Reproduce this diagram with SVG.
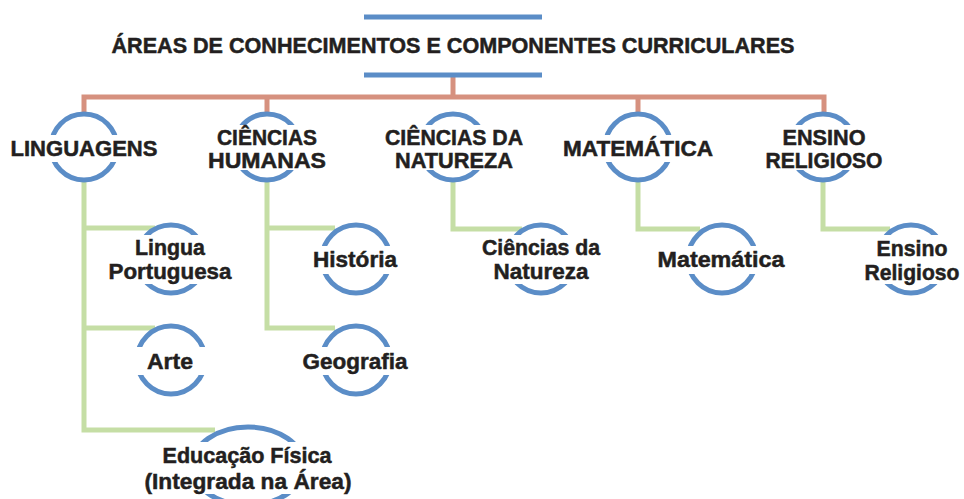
<svg xmlns="http://www.w3.org/2000/svg" width="964" height="499" viewBox="0 0 964 499">
<style>
.red{stroke:#d6917f;stroke-width:5;fill:none}
.grn{stroke:#c5dea5;stroke-width:5;fill:none}
.blu{stroke:#5b8dc7;stroke-width:5;fill:none}
.bg{fill:#ffffff}
text{font-family:"Liberation Sans",Arial,sans-serif;font-weight:bold;font-size:22px;fill:#231f20;stroke:#231f20;stroke-width:0.5;text-anchor:middle}
</style>
<rect width="964" height="499" fill="#ffffff"/>
<g id="connectors">
<line class="red" x1="453" y1="75" x2="453" y2="97"/>
<polyline class="red" points="84,113 84,97 824,97 824,113"/>
<line class="red" x1="267" y1="97" x2="267" y2="113"/>
<line class="red" x1="638" y1="97" x2="638" y2="113"/>
<polyline class="grn" points="84,181 84,430 215,430"/>
<line class="grn" x1="84" y1="228" x2="155" y2="228"/>
<line class="grn" x1="84" y1="328" x2="155" y2="328"/>
<polyline class="grn" points="267,181 267,328 335,328"/>
<line class="grn" x1="267" y1="228" x2="335" y2="228"/>
<polyline class="grn" points="453,181 453,229 522,229"/>
<polyline class="grn" points="638,181 638,229 700,229"/>
<polyline class="grn" points="823,181 823,229 890,229"/>
</g>
<g id="title">
<line class="blu" x1="364" y1="17" x2="542" y2="17"/>
<line class="blu" x1="364" y1="75" x2="542" y2="75"/>
<text x="453" y="53" textLength="683" lengthAdjust="spacingAndGlyphs">ÁREAS DE CONHECIMENTOS E COMPONENTES CURRICULARES</text>
</g>
<g id="linguagens">
<circle class="blu" cx="84" cy="147" r="33"/>
<rect class="bg" x="8" y="135" width="152" height="27"/>
<text x="84" y="156" textLength="147" lengthAdjust="spacingAndGlyphs">LINGUAGENS</text>
</g>
<g id="ciencias-humanas">
<circle class="blu" cx="267" cy="147" r="33"/>
<rect class="bg" x="205" y="125" width="124" height="45"/>
<text x="267" y="145" textLength="100" lengthAdjust="spacingAndGlyphs">CIÊNCIAS</text>
<text x="267" y="168" textLength="118" lengthAdjust="spacingAndGlyphs">HUMANAS</text>
</g>
<g id="ciencias-natureza">
<circle class="blu" cx="453" cy="147" r="33"/>
<rect class="bg" x="382" y="125" width="144" height="45"/>
<text x="454" y="145" textLength="138" lengthAdjust="spacingAndGlyphs">CIÊNCIAS DA</text>
<text x="454" y="168" textLength="118" lengthAdjust="spacingAndGlyphs">NATUREZA</text>
</g>
<g id="matematica">
<circle class="blu" cx="638" cy="147" r="33"/>
<rect class="bg" x="560" y="135" width="156" height="27"/>
<text x="638" y="156" textLength="150" lengthAdjust="spacingAndGlyphs">MATEMÁTICA</text>
</g>
<g id="ensino-religioso">
<circle class="blu" cx="823" cy="147" r="33"/>
<rect class="bg" x="763" y="125" width="123" height="45"/>
<text x="824" y="145" textLength="83" lengthAdjust="spacingAndGlyphs">ENSINO</text>
<text x="824" y="168" textLength="117" lengthAdjust="spacingAndGlyphs">RELIGIOSO</text>
</g>
<g id="lingua-portuguesa">
<circle class="blu" cx="171" cy="259" r="34"/>
<rect class="bg" x="105" y="235" width="132" height="49"/>
<text x="170" y="255" textLength="70" lengthAdjust="spacingAndGlyphs">Lingua</text>
<text x="170" y="279" textLength="123" lengthAdjust="spacingAndGlyphs">Portuguesa</text>
</g>
<g id="arte">
<circle class="blu" cx="171" cy="360" r="34"/>
<rect class="bg" x="130" y="347" width="82" height="28"/>
<text x="170" y="369" textLength="46" lengthAdjust="spacingAndGlyphs">Arte</text>
</g>
<g id="educacao-fisica">
<ellipse class="blu" cx="248" cy="466" rx="56" ry="39"/>
<rect class="bg" x="140" y="442" width="216" height="52"/>
<text x="247" y="463" textLength="169" lengthAdjust="spacingAndGlyphs">Educação Física</text>
<text x="248" y="489" textLength="207" lengthAdjust="spacingAndGlyphs">(Integrada na Área)</text>
</g>
<g id="historia">
<circle class="blu" cx="356" cy="259" r="34"/>
<rect class="bg" x="310" y="246" width="92" height="28"/>
<text x="355" y="267" textLength="84" lengthAdjust="spacingAndGlyphs">História</text>
</g>
<g id="geografia">
<circle class="blu" cx="356" cy="360" r="34"/>
<rect class="bg" x="299" y="347" width="112" height="28"/>
<text x="355" y="369" textLength="105" lengthAdjust="spacingAndGlyphs">Geografia</text>
</g>
<g id="ciencias-natureza-comp">
<circle class="blu" cx="541" cy="259" r="34"/>
<rect class="bg" x="479" y="235" width="124" height="49"/>
<text x="541" y="255" textLength="118" lengthAdjust="spacingAndGlyphs">Ciências da</text>
<text x="541" y="279" textLength="95" lengthAdjust="spacingAndGlyphs">Natureza</text>
</g>
<g id="matematica-comp">
<circle class="blu" cx="722" cy="259" r="34"/>
<rect class="bg" x="655" y="246" width="134" height="28"/>
<text x="721" y="267" textLength="127" lengthAdjust="spacingAndGlyphs">Matemática</text>
</g>
<g id="ensino-religioso-comp">
<circle class="blu" cx="911" cy="259" r="34"/>
<rect class="bg" x="862" y="235" width="100" height="49"/>
<text x="912" y="256" textLength="71" lengthAdjust="spacingAndGlyphs">Ensino</text>
<text x="912" y="280" textLength="95" lengthAdjust="spacingAndGlyphs">Religioso</text>
</g>
</svg>
